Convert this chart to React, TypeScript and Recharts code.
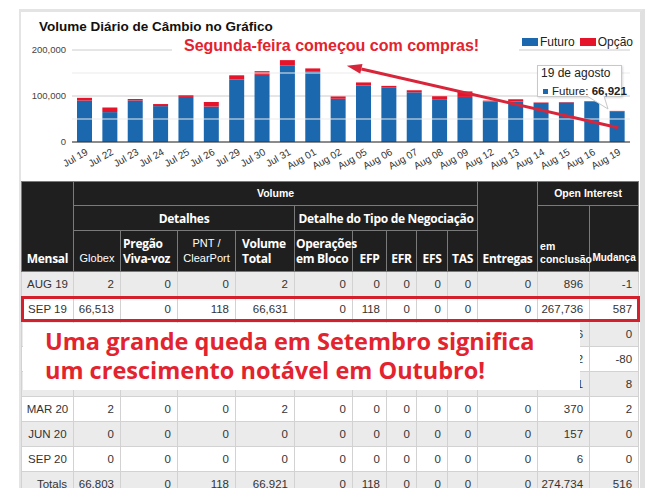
import React from 'react';
import {
  BarChart,
  Bar,
  XAxis,
  YAxis,
  CartesianGrid,
  ReferenceLine,
  Tooltip,
  Legend,
} from 'recharts';

// chart data
const days = [
  'Jul 19', 'Jul 22', 'Jul 23', 'Jul 24', 'Jul 25', 'Jul 26', 'Jul 29', 'Jul 30', 'Jul 31',
  'Aug 01', 'Aug 02', 'Aug 05', 'Aug 06', 'Aug 07', 'Aug 08', 'Aug 09', 'Aug 12', 'Aug 13',
  'Aug 14', 'Aug 15', 'Aug 16', 'Aug 19',
];
const tooltipDates = [
  '19 de julho', '22 de julho', '23 de julho', '24 de julho', '25 de julho', '26 de julho',
  '29 de julho', '30 de julho', '31 de julho', '1 de agosto', '2 de agosto', '5 de agosto',
  '6 de agosto', '7 de agosto', '8 de agosto', '9 de agosto', '12 de agosto', '13 de agosto',
  '14 de agosto', '15 de agosto', '16 de agosto', '19 de agosto',
];
const futuro = [
  90000, 65000, 90000, 78000, 98000, 77000, 136000, 146000, 167000, 153000, 94000,
  123000, 118000, 108000, 93000, 98000, 88000, 88000, 85000, 86000, 88000, 66921,
];
const opcao = [
  6000, 10000, 3500, 4500, 3500, 10000, 9000, 8000, 11000, 7000, 5000,
  6500, 4000, 4500, 6500, 12000, 2000, 5000, 1000, 1000, 1000, 700,
];
const yTicks = [0, 100000, 200000];
const yMinor = [50000, 150000];

// annotation arrow, in data units (x = day index)
const arrowFrom = { x: 20.56, y: 31000 };
const arrowTo = { x: 10.34, y: 166000 };

// table data
const months = ['AUG 19', 'SEP 19', 'OCT 19', 'NOV 19', 'DEC 19', 'MAR 20', 'JUN 20', 'SEP 20'];
const globex = [2, 66513, 166, 0, 120, 2, 0, 0];
const pregao = [0, 0, 0, 0, 0, 0, 0, 0];
const pnt = [0, 118, 0, 0, 0, 0, 0, 0];
const volTotal = [2, 66631, 166, 0, 120, 2, 0, 0];
const bloco = [0, 0, 0, 0, 0, 0, 0, 0];
const efp = [0, 118, 0, 0, 0, 0, 0, 0];
const efr = [0, 0, 0, 0, 0, 0, 0, 0];
const efs = [0, 0, 0, 0, 0, 0, 0, 0];
const tas = [0, 0, 0, 0, 0, 0, 0, 0];
const entregas = [0, 0, 0, 0, 0, 0, 0, 0];
const openInt = [896, 267736, 56, 2, 5511, 370, 157, 6];
const change = [-1, 587, 0, -80, 8, 2, 0, 0];
const totals = [66803, 0, 118, 66921, 0, 118, 0, 0, 0, 0, 274734, 516];

const colWidths = [52, 47, 57, 58, 59, 58, 34, 30, 31, 30, 60, 52, 49];

const BLUE = '#1c68ae';
const RED = '#e5142b';
const ANNOT = '#e3232e';

const fmt = (n: number) => n.toLocaleString('en-US');

const chartData = days.map((day, i) => ({ day, futuro: futuro[i], opcao: opcao[i] }));

function ArrowShape(props: any) {
  const { x1, y1, x2, y2 } = props;
  const ang = Math.atan2(y2 - y1, x2 - x1);
  const len = 15;
  const half = 5;
  const bx = x2 - len * Math.cos(ang);
  const by = y2 - len * Math.sin(ang);
  const px = -Math.sin(ang) * half;
  const py = Math.cos(ang) * half;
  return (
    <g>
      <line x1={x1} y1={y1} x2={bx} y2={by} stroke="#d8253a" strokeWidth={3} />
      <polygon
        points={`${x2},${y2} ${bx + px},${by + py} ${bx - px},${by - py}`}
        fill="#d8253a"
      />
    </g>
  );
}

function DayTick({ x, y, payload }: any) {
  const tx = x + 4;
  const ty = y + 4;
  return (
    <text
      x={tx}
      y={ty}
      transform={`rotate(-30 ${tx} ${ty})`}
      textAnchor="end"
      fontSize={10}
      fill="#333"
      fontFamily="Arial"
    >
      {payload.value}
    </text>
  );
}

function DayTooltip({ active, payload, label }: any) {
  if (!active || !payload || !payload.length) return null;
  const idx = days.indexOf(label);
  const fut = payload.find((p: any) => p.dataKey === 'futuro');
  return (
    <div
      style={{
        position: 'relative',
        width: 85,
        height: 32,
        boxSizing: 'border-box',
        background: '#fff',
        border: '1px solid #c8c8c8',
        boxShadow: '1px 1px 2px rgba(0,0,0,0.15)',
        fontFamily: 'Arial',
        padding: '0 3px',
      }}
    >
      <div style={{ fontSize: 12, lineHeight: '14px', color: '#222' }}>{tooltipDates[idx]}</div>
      <div style={{ fontSize: 11.5, lineHeight: '14px', color: '#222', marginTop: 4, whiteSpace: 'nowrap' }}>
        <span
          style={{
            display: 'inline-block',
            width: 5,
            height: 5,
            background: BLUE,
            marginRight: 4,
            marginLeft: 2,
            verticalAlign: 1,
          }}
        />
        Future: <b>{fmt(fut.value)}</b>
      </div>
      <svg
        width={26}
        height={16}
        style={{ position: 'absolute', left: 49, top: 30, overflow: 'visible' }}
      >
        <polygon points="0,0 17,0 21,13" fill="#fff" />
        <polyline points="0,0 21,13 17,0" fill="none" stroke="#c8c8c8" strokeWidth={1} />
      </svg>
    </div>
  );
}

function LegendContent({ payload }: any) {
  return (
    <div style={{ display: 'flex', alignItems: 'center', fontFamily: 'Arial', fontSize: 12, color: '#222' }}>
      {(payload || []).map((e: any) => (
        <span key={e.value} style={{ display: 'flex', alignItems: 'center', marginRight: 5 }}>
          <span style={{ display: 'inline-block', width: 16, height: 8, background: e.color, marginRight: 2 }} />
          {e.value}
        </span>
      ))}
    </div>
  );
}

const hd: React.CSSProperties = {
  background: '#1f1f1f',
  color: '#fff',
  border: '1px solid #7a7a7a',
  padding: 0,
  textAlign: 'center',
  verticalAlign: 'middle',
  overflow: 'visible',
  whiteSpace: 'nowrap',
};
const os: React.CSSProperties = {
  fontFamily: '"Open Sans", sans-serif',
  fontWeight: 700,
  fontSize: 12,
  letterSpacing: -0.3,
  lineHeight: '15px',
};
const arB: React.CSSProperties = {
  fontFamily: 'Arial, sans-serif',
  fontWeight: 700,
  fontSize: 10.5,
  lineHeight: '13px',
};
const arN: React.CSSProperties = {
  fontFamily: 'Arial, sans-serif',
  fontWeight: 400,
  fontSize: 11,
  lineHeight: '15px',
};
const bottom: React.CSSProperties = { verticalAlign: 'bottom', paddingBottom: 5 };
const td: React.CSSProperties = {
  fontFamily: 'Arial, sans-serif',
  fontSize: 11.5,
  color: '#333',
  border: '1px solid #d2d2d2',
  padding: '0 6px 0 0',
  textAlign: 'right',
  height: 24,
};

export default function App() {
  const rows = months.map((m, i) => [
    globex[i], pregao[i], pnt[i], volTotal[i], bloco[i], efp[i], efr[i], efs[i], tas[i],
    entregas[i], openInt[i], change[i],
  ]);

  return (
    <div
      style={{
        position: 'absolute',
        left: 0,
        top: 0,
        width: 653,
        height: 501,
        background: '#fff',
        overflow: 'hidden',
        fontFamily: 'Arial, "Liberation Sans", sans-serif',
      }}
    >
      <div
        style={{
          position: 'absolute',
          left: 19,
          top: 9,
          width: 626,
          height: 479,
          boxSizing: 'border-box',
          borderTop: '3px solid #e4e4e4',
          borderLeft: '2px solid #e4e4e4',
          borderRight: '5px solid #e0e0e0',
          overflow: 'hidden',
        }}
      >
        <div style={{ position: 'absolute', left: -21, top: -12, width: 653, height: 501 }}>
          <div style={{ position: 'absolute', left: 0, top: 0 }}>
            <BarChart
              width={653}
              height={180}
              data={chartData}
              margin={{ top: 50, right: 23, bottom: 0, left: 12 }}
              barSize={15}
            >
              <CartesianGrid horizontal vertical={false} stroke="#cccccc" />
              {yMinor.map((v) => (
                <ReferenceLine key={v} y={v} stroke="#ebebeb" />
              ))}
              <XAxis
                dataKey="day"
                interval={0}
                height={38}
                tickLine={false}
                axisLine={{ stroke: '#333' }}
                tick={<DayTick />}
              />
              <XAxis
                xAxisId="num"
                type="number"
                domain={[-0.5, days.length - 0.5]}
                allowDataOverflow
                hide
              />
              <YAxis
                width={60}
                domain={[0, 200000]}
                ticks={yTicks}
                tickFormatter={fmt}
                axisLine={false}
                tickLine={false}
                tickSize={4}
                tick={{ fontSize: 9.5, fill: '#444', fontFamily: 'Arial' }}
              />
              <Bar dataKey="futuro" name="Futuro" stackId="a" fill={BLUE} isAnimationActive={false} />
              <Bar dataKey="opcao" name="Opção" stackId="a" fill={RED} isAnimationActive={false} />
              <ReferenceLine
                xAxisId="num"
                segment={[arrowFrom, arrowTo]}
                ifOverflow="visible"
                shape={ArrowShape}
              />
              <Legend
                layout="horizontal"
                verticalAlign="middle"
                align="center"
                wrapperStyle={{ top: 35, left: 522, width: 'auto', height: 'auto' }}
                content={<LegendContent />}
              />
              <Tooltip
                content={<DayTooltip />}
                cursor={false}
                active
                defaultIndex={21}
                position={{ x: 537, y: 65 }}
                allowEscapeViewBox={{ x: true, y: true }}
                isAnimationActive={false}
              />
            </BarChart>
          </div>

          <div
            style={{
              position: 'absolute',
              left: 39,
              top: 19,
              fontSize: 13.5,
              lineHeight: '16px',
              fontWeight: 700,
              color: '#111',
              whiteSpace: 'nowrap',
            }}
          >
            Volume Diário de Câmbio no Gráfico
          </div>

          <div
            style={{
              position: 'absolute',
              left: 172,
              top: 35,
              width: 347,
              height: 22,
              background: '#fff',
              boxSizing: 'border-box',
              paddingLeft: 12,
              fontSize: 16,
              lineHeight: '22px',
              fontWeight: 700,
              color: ANNOT,
              whiteSpace: 'nowrap',
            }}
          >
            Segunda-feira começou com compras!
          </div>

          <table
            style={{
              position: 'absolute',
              left: 21,
              top: 181,
              width: 617,
              borderCollapse: 'collapse',
              tableLayout: 'fixed',
            }}
          >
            <colgroup>
              {colWidths.map((w, i) => (
                <col key={i} style={{ width: w }} />
              ))}
            </colgroup>
            <thead>
              <tr style={{ height: 24 }}>
                <th rowSpan={3} style={{ ...hd, ...os, ...bottom }}>Mensal</th>
                <th colSpan={9} style={{ ...hd, ...arB }}>Volume</th>
                <th rowSpan={3} style={{ ...hd, ...os, ...bottom }}>Entregas</th>
                <th colSpan={2} style={{ ...hd, ...arB }}>Open Interest</th>
              </tr>
              <tr style={{ height: 25 }}>
                <th colSpan={4} style={{ ...hd, ...os }}>Detalhes</th>
                <th colSpan={5} style={{ ...hd, ...os }}>Detalhe do Tipo de Negociação</th>
                <th rowSpan={2} style={{ ...hd, ...arB, ...bottom, textAlign: 'left', paddingLeft: 2 }}>
                  em
                  <br />
                  conclusão
                </th>
                <th rowSpan={2} style={{ ...hd, ...arB, ...bottom, fontSize: 10, paddingBottom: 7 }}>Mudança</th>
              </tr>
              <tr style={{ height: 41 }}>
                <th style={{ ...hd, ...arN, ...bottom }}>Globex</th>
                <th style={{ ...hd, ...os, ...bottom, textAlign: 'left', paddingLeft: 2 }}>
                  Pregão
                  <br />
                  Viva-voz
                </th>
                <th style={{ ...hd, ...arN, ...bottom }}>
                  PNT /
                  <br />
                  ClearPort
                </th>
                <th style={{ ...hd, ...os, ...bottom, textAlign: 'left', paddingLeft: 6 }}>
                  Volume
                  <br />
                  Total
                </th>
                <th style={{ ...hd, ...os, ...bottom, textAlign: 'left', paddingLeft: 1 }}>
                  Operações
                  <br />
                  em Bloco
                </th>
                <th style={{ ...hd, ...os, ...bottom }}>EFP</th>
                <th style={{ ...hd, ...os, ...bottom }}>EFR</th>
                <th style={{ ...hd, ...os, ...bottom }}>EFS</th>
                <th style={{ ...hd, ...os, ...bottom }}>TAS</th>
              </tr>
            </thead>
            <tbody>
              {rows.map((vals, i) => (
                <tr key={months[i]} style={{ background: i % 2 === 0 ? '#ebebeb' : '#fff' }}>
                  <td style={{ ...td, textAlign: 'center', padding: 0 }}>{months[i]}</td>
                  {vals.map((v, j) => (
                    <td key={j} style={td}>{fmt(v)}</td>
                  ))}
                </tr>
              ))}
              <tr style={{ background: '#ebebeb' }}>
                <td style={td}>Totals</td>
                {totals.map((v, j) => (
                  <td key={j} style={td}>{fmt(v)}</td>
                ))}
              </tr>
            </tbody>
          </table>

          <div
            style={{
              position: 'absolute',
              left: 21,
              top: 296,
              width: 619,
              height: 26,
              boxSizing: 'border-box',
              border: '3px solid #d3202c',
            }}
          />

          <div
            style={{
              position: 'absolute',
              left: 23,
              top: 323,
              width: 557,
              height: 67,
              background: '#fff',
              boxSizing: 'border-box',
              paddingLeft: 22,
              paddingTop: 4,
              fontFamily: '"Open Sans", sans-serif',
              fontWeight: 700,
              fontSize: 23.5,
              lineHeight: '29px',
              color: ANNOT,
              whiteSpace: 'nowrap',
            }}
          >
            Uma grande queda em Setembro significa
            <br />
            um crescimento notável em Outubro!
          </div>
        </div>
      </div>
    </div>
  );
}
